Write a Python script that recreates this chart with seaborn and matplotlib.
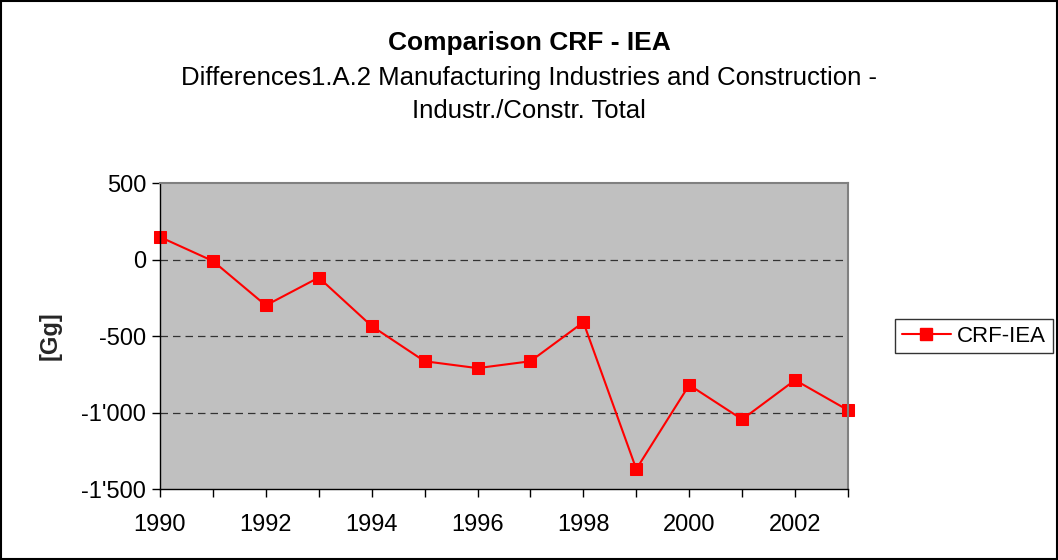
import numpy as np
import pandas as pd
import matplotlib
matplotlib.use('Agg')
import matplotlib.pyplot as plt
import seaborn as sns
from matplotlib.ticker import FuncFormatter

# data
years = [1990, 1991, 1992, 1993, 1994, 1995, 1996, 1997, 1998, 1999, 2000, 2001, 2002, 2003]
crf_iea = [147, -10, -300, -118, -435, -665, -710, -665, -410, -1370, -820, -1045, -788, -985]
series_name = 'CRF-IEA'

df = pd.DataFrame({'Year': years, 'Value': crf_iea, 'Series': series_name})

sns.set_style('ticks')
plt.rcParams['font.family'] = ['Liberation Sans', 'DejaVu Sans']
plt.rcParams['text.color'] = 'black'
plt.rcParams['xtick.color'] = 'black'
plt.rcParams['ytick.color'] = 'black'

fig = plt.figure(figsize=(10.58, 5.60), dpi=100)
ax = fig.add_axes([160 / 1058, 1 - 489 / 560, 688 / 1058, 306 / 560])
ax.set_facecolor('#c0c0c0')

sns.lineplot(data=df, x='Year', y='Value', hue='Series', palette=['#ff0000'],
             marker='s', markersize=8, markeredgecolor='#ff0000', linewidth=1.5,
             ax=ax, legend=False)
for ln in ax.lines:
    ln.set_clip_on(False)

ax.set_xlim(1990, 2003)
ax.set_ylim(-1500, 500)
ax.set_xticks(range(1990, 2004))
ax.set_xticklabels([str(y) if y % 2 == 0 else '' for y in range(1990, 2004)])
ax.set_yticks([-1500, -1000, -500, 0, 500])
ax.yaxis.set_major_formatter(FuncFormatter(lambda v, p: f'{int(v):,}'.replace(',', "'")))
for yv in [-1000, -500, 0]:
    ax.axhline(yv, color='#333333', linestyle=(0, (6, 4)), linewidth=0.9, zorder=1)

ax.tick_params(axis='both', direction='out', length=6, width=1, color='black',
               labelsize=17, pad=4)
ax.tick_params(axis='x', pad=12)
for side in ['left', 'bottom']:
    ax.spines[side].set_color('black')
    ax.spines[side].set_linewidth(1)
for side in ['top', 'right']:
    ax.spines[side].set_visible(True)
    ax.spines[side].set_color('#808080')
    ax.spines[side].set_linewidth(1.5)
ax.set_xlabel('')
ax.set_ylabel('[Gg]', fontsize=17, fontweight='bold', labelpad=14)

fig.text(0.5, 1 - 43 / 560, 'Comparison CRF - IEA', ha='center', va='center',
         fontsize=19, fontweight='bold')
fig.text(0.5, 1 - 78 / 560, 'Differences1.A.2 Manufacturing Industries and Construction -',
         ha='center', va='center', fontsize=18.5)
fig.text(0.5, 1 - 111 / 560, 'Industr./Constr. Total', ha='center', va='center', fontsize=18.5)

handle = plt.Line2D([], [], color='#ff0000', marker='s', markersize=8, linewidth=1.5)
leg = fig.legend([handle], [series_name], loc='center left',
                 bbox_to_anchor=(895 / 1058, 1 - 336 / 560), fontsize=16,
                 frameon=True, fancybox=False, edgecolor='black',
                 handlelength=2.2, borderpad=0.3, borderaxespad=0,
                 handletextpad=0.3)
leg.get_frame().set_linewidth(1)

# outer frame of the chart
fig.patches.append(plt.Rectangle((0.001, 0.001), 0.998, 0.997, transform=fig.transFigure,
                                 fill=False, edgecolor='black', linewidth=1.5))

fig.savefig('out.png', dpi=100)
